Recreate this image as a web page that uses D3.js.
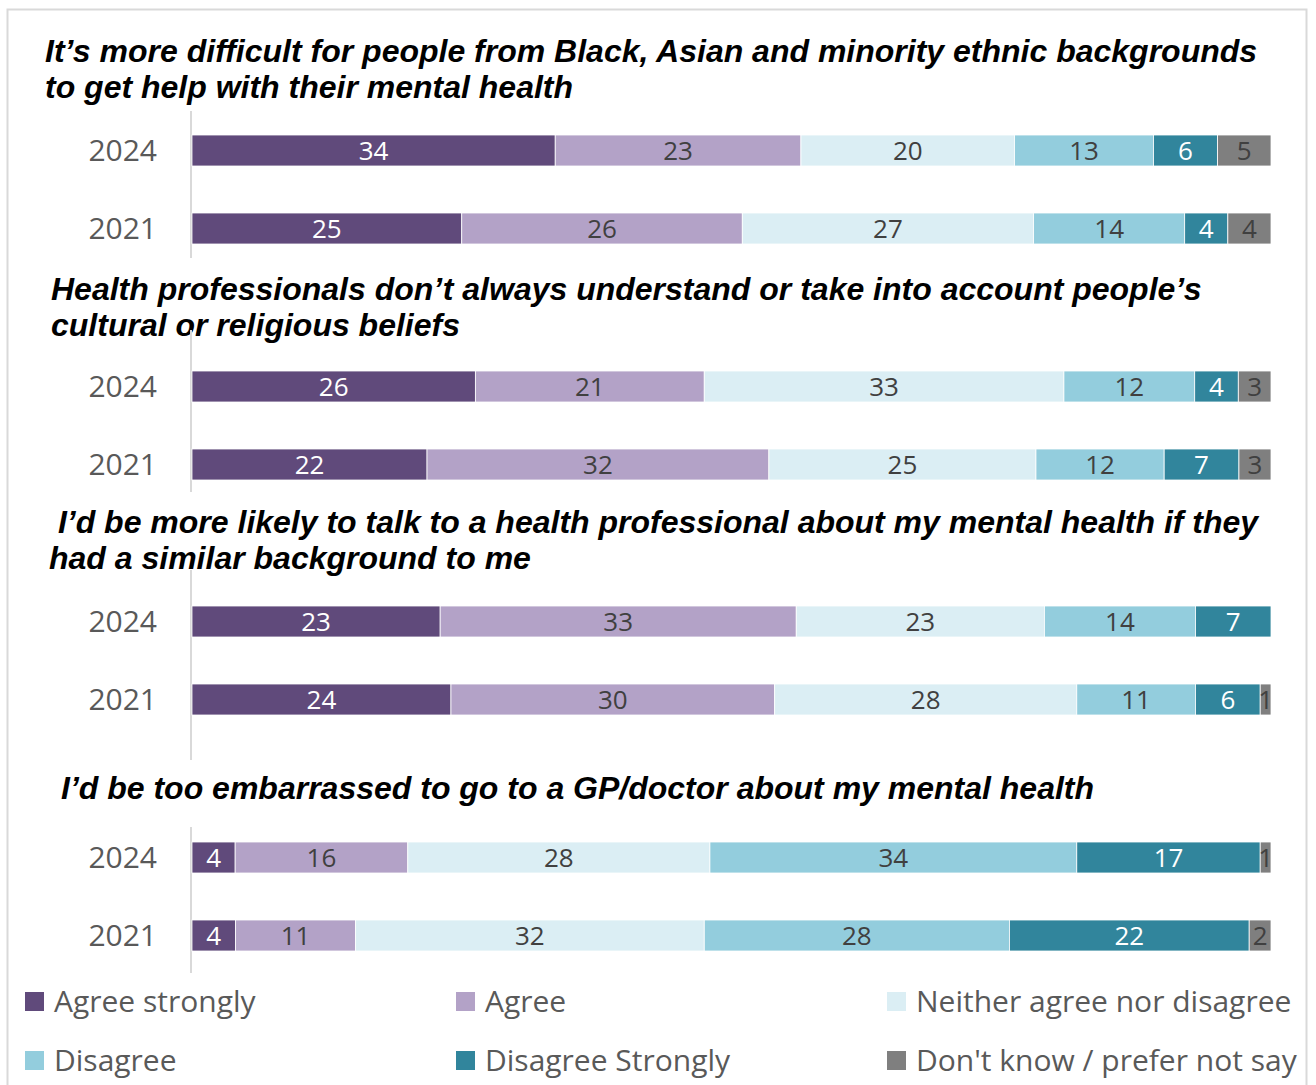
<!DOCTYPE html>
<html>
<head>
<meta charset="utf-8">
<script src="https://cdn.jsdelivr.net/npm/d3@7/dist/d3.min.js"></script>
<style>
  html, body { margin: 0; padding: 0; background: #fff; }
  svg { display: block; }
  .title { font-family: "Liberation Sans", Arial, sans-serif; font-weight: bold; font-style: italic; font-size: 32px; fill: #000; white-space: pre; }
  .year { font-family: "Open Sans", sans-serif; font-size: 30px; fill: #595959; }
  .val { font-family: "Open Sans", sans-serif; font-size: 26px; }
  .leg { font-family: "Open Sans", sans-serif; font-size: 30px; fill: #595959; }
</style>
</head>
<body>
<svg id="chart" width="1316" height="1085"></svg>
<script>
// Response categories (stack order, left to right)
const categories = [
  "Agree strongly",
  "Agree",
  "Neither agree nor disagree",
  "Disagree",
  "Disagree Strongly",
  "Don't know / prefer not say"
];
const colors = ["#604a7b", "#b3a2c7", "#dbeef4", "#93cddd", "#31859c", "#7f7f7f"];
const labelColors = ["#ffffff", "#404040", "#404040", "#404040", "#ffffff", "#404040"];

const years = ["2024", "2021"];

// Statement titles (wrapped lines)
const titles = [
  ["It\u2019s more difficult for people from Black, Asian and minority ethnic backgrounds", "to get help with their mental health"],
  ["Health professionals don\u2019t always understand or take into account people\u2019s", "cultural or religious beliefs"],
  [" I\u2019d be more likely to talk to a health professional about my mental health if they", "had a similar background to me"],
  ["I\u2019d be too embarrassed to go to a GP/doctor about my mental health"]
];

// Percentages per statement, one array per survey year
const harderToGetHelp2024 = [34, 23, 20, 13, 6, 5];
const harderToGetHelp2021 = [25, 26, 27, 14, 4, 4];
const beliefsNotUnderstood2024 = [26, 21, 33, 12, 4, 3];
const beliefsNotUnderstood2021 = [22, 32, 25, 12, 7, 3];
const similarBackground2024 = [23, 33, 23, 14, 7, 0];
const similarBackground2021 = [24, 30, 28, 11, 6, 1];
const tooEmbarrassed2024 = [4, 16, 28, 34, 17, 1];
const tooEmbarrassed2021 = [4, 11, 32, 28, 22, 2];

const seriesByPanel = [
  [harderToGetHelp2024, harderToGetHelp2021],
  [beliefsNotUnderstood2024, beliefsNotUnderstood2021],
  [similarBackground2024, similarBackground2021],
  [tooEmbarrassed2024, tooEmbarrassed2021]
];

// Panel layout: title position, band range for the two bars, axis line extent
const panelLayout = [
  { titleX: 45, titleY: [62, 98],  band: [111.5, 267.5], axis: [111, 258] },
  { titleX: 51, titleY: [300, 336], band: [347.5, 503.5], axis: [330, 492] },
  { titleX: 49, titleY: [533, 569], band: [582.5, 738.5], axis: [570, 760] },
  { titleX: 61, titleY: [799],      band: [818.5, 974.5], axis: [827, 973] }
];

const svg = d3.select("#chart");

// Outer frame
svg.append("rect")
  .attr("x", 7.5).attr("y", 9.5)
  .attr("width", 1299).attr("height", 1090)
  .attr("fill", "none")
  .attr("stroke", "#d9d9d9")
  .attr("stroke-width", 2);

const x = d3.scaleLinear().domain([0, 1]).range([192, 1271]);

const stack = d3.stack()
  .keys(d3.range(categories.length))
  .value((row, k) => row.values[k])
  .offset(d3.stackOffsetExpand);

seriesByPanel.forEach((pair, p) => {
  const L = panelLayout[p];
  const g = svg.append("g");

  // Statement title
  titles[p].forEach((line, i) => {
    g.append("text").attr("class", "title")
      .attr("x", L.titleX).attr("y", L.titleY[i])
      .text(line);
  });

  const rows = years.map((yr, i) => ({ year: yr, values: pair[i] }));
  const y = d3.scaleBand().domain(years).range(L.band).paddingInner(0.6).paddingOuter(0.3);
  const bh = 31;
  const yc = yr => y(yr) + y.bandwidth() / 2;

  // Category axis line
  g.append("line")
    .attr("x1", 191).attr("x2", 191)
    .attr("y1", L.axis[0]).attr("y2", L.axis[1])
    .attr("stroke", "#d9d9d9").attr("stroke-width", 2);

  // Year labels
  g.selectAll("text.year").data(years).join("text")
    .attr("class", "year")
    .attr("x", 157).attr("y", d => yc(d) + 10.5)
    .attr("text-anchor", "end")
    .text(d => d);

  const stacked = stack(rows);

  stacked.forEach((layer, k) => {
    const lg = g.append("g");
    lg.selectAll("rect").data(layer.filter(d => d.data.values[k] > 0)).join("rect")
      .attr("x", d => x(d[0]))
      .attr("width", d => x(d[1]) - x(d[0]))
      .attr("y", d => yc(d.data.year) - bh / 2)
      .attr("height", bh)
      .attr("fill", colors[k])
      .attr("stroke", "#ffffff")
      .attr("stroke-width", 0.8);

    lg.selectAll("text").data(layer.filter(d => d.data.values[k] > 0)).join("text")
      .attr("class", "val")
      .attr("x", d => (x(d[0]) + x(d[1])) / 2)
      .attr("y", d => yc(d.data.year) + 9.5)
      .attr("text-anchor", "middle")
      .attr("fill", labelColors[k])
      .text(d => d.data.values[k]);
  });
});

// Legend: three columns, two rows
const legX = [25, 456, 887];
const legY = [992, 1051];
const legend = svg.append("g");
categories.forEach((c, i) => {
  const cx = legX[i % 3], cy = legY[Math.floor(i / 3)];
  legend.append("rect")
    .attr("x", cx).attr("y", cy)
    .attr("width", 19).attr("height", 19)
    .attr("fill", colors[i]);
  legend.append("text").attr("class", "leg")
    .attr("x", cx + 29).attr("y", cy + 20)
    .text(c);
});
</script>
</body>
</html>
